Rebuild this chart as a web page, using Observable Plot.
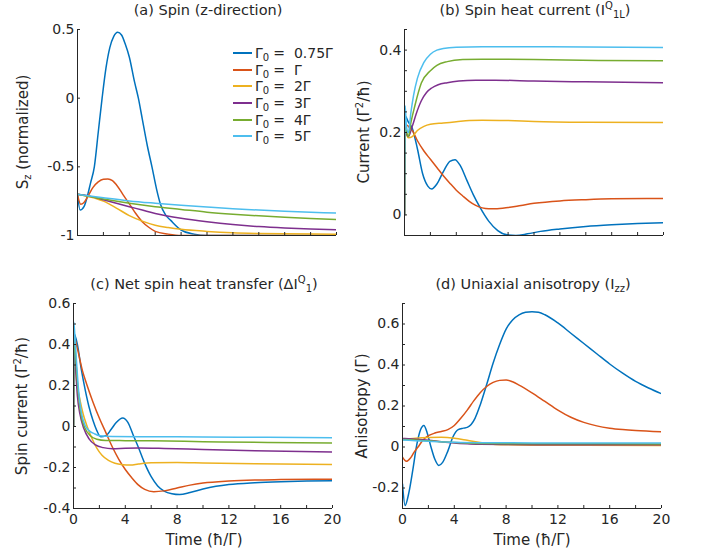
<!DOCTYPE html>
<html><head><meta charset="utf-8">
<script src="https://cdn.jsdelivr.net/npm/d3@7"></script>
<script src="https://cdn.jsdelivr.net/npm/@observablehq/plot@0.6"></script>
<style>
body{margin:0;background:#fff;}
#fig{position:relative;width:705px;height:554px;font-family:"DejaVu Sans",sans-serif;color:#262626;overflow:hidden;background:#fff;}
.panel{position:absolute;}
.txt{position:absolute;white-space:nowrap;line-height:1;}
.title{font-size:14.5px;transform:translate(-50%,-50%);}
.ylab{font-size:15px;transform:translate(-50%,-50%) rotate(-90deg);}
.xlab{font-size:15px;transform:translate(-50%,-50%);}
.sb{font-size:10px;position:relative;top:3px;}
.sp{font-size:10px;position:relative;top:-6px;}
.leg{position:absolute;left:233px;top:45px;font-size:14px;}
.leg .row{height:16.6px;display:flex;align-items:center;white-space:nowrap;}
.leg .sw{width:19px;height:2px;margin-right:3px;}
.leg .eq{margin:0 9px 0 4px;}
</style></head>
<body><div id="fig"></div>
<script>
// ---------- data ----------
const seriesLabels = ["0.75Γ", "Γ", "2Γ", "3Γ", "4Γ", "5Γ"];
const colors = ["#0072BD", "#D95319", "#EDB120", "#7E2F8E", "#77AC30", "#4DBEEE"];
const xTicks = [0, 2, 4, 6, 8, 10, 12, 14, 16, 18, 20];
const xTickLabels = [0, 4, 8, 12, 16, 20];

// (a) Spin S_z, [time, value]
const szA = [[0,-0.70],[0.2,-0.815],[0.5,-0.79],[0.8,-0.70],[1.0,-0.62],[1.3,-0.50],[1.6,-0.25],[1.9,0.0],[2.2,0.22],[2.5,0.37],[2.8,0.45],[3.1,0.48],[3.4,0.46],[3.7,0.39],[4.0,0.30],[4.4,0.12],[4.7,0.0],[5.0,-0.15],[5.4,-0.35],[5.75,-0.50],[6.1,-0.66],[6.4,-0.77],[6.8,-0.85],[7.2,-0.89],[8.0,-0.96],[9.0,-0.99],[10,-1.0],[20,-1.0]];
const szB = [[0,-0.70],[0.25,-0.773],[0.5,-0.76],[0.85,-0.707],[1.2,-0.65],[1.6,-0.61],[2.0,-0.59],[2.35,-0.588],[2.7,-0.60],[3.0,-0.63],[3.5,-0.70],[4.0,-0.77],[4.5,-0.84],[5.0,-0.90],[5.5,-0.94],[6.0,-0.97],[7.0,-0.99],[8,-1.0],[20,-1.0]];
const szC = [[0,-0.70],[1,-0.72],[2,-0.75],[3,-0.80],[4,-0.855],[5,-0.895],[6,-0.925],[7,-0.942],[8,-0.955],[10,-0.97],[12,-0.98],[14,-0.985],[16,-0.988],[20,-0.99]];
const szD = [[0,-0.70],[1,-0.715],[2,-0.74],[3,-0.765],[4,-0.79],[5,-0.815],[6,-0.84],[8,-0.875],[10,-0.90],[12,-0.92],[14,-0.935],[16,-0.945],[18,-0.952],[20,-0.958]];
const szE = [[0,-0.70],[2,-0.735],[4,-0.765],[6,-0.79],[8,-0.81],[10,-0.83],[12,-0.845],[14,-0.857],[16,-0.867],[18,-0.876],[20,-0.884]];
const szF = [[0,-0.70],[2,-0.725],[4,-0.748],[6,-0.765],[8,-0.78],[10,-0.793],[12,-0.805],[14,-0.815],[16,-0.823],[18,-0.83],[20,-0.837]];

// (b) Spin heat current
const hcA = [[0,0],[0.05,0.24],[0.3,0.225],[0.6,0.21],[1.0,0.16],[1.4,0.10],[1.8,0.07],[2.1,0.063],[2.5,0.075],[3.0,0.105],[3.5,0.13],[3.9,0.134],[4.3,0.12],[4.8,0.085],[5.3,0.05],[5.8,0.02],[6.5,-0.015],[7.2,-0.038],[8.0,-0.049],[8.6,-0.05],[9.5,-0.046],[10.5,-0.04],[12,-0.034],[14,-0.028],[16,-0.024],[18,-0.021],[20,-0.019]];
const hcB = [[0,0],[0.05,0.22],[0.3,0.215],[0.6,0.205],[1.0,0.18],[1.5,0.155],[2.0,0.135],[2.5,0.115],[3.0,0.095],[3.5,0.077],[4.0,0.06],[4.5,0.046],[5.0,0.033],[5.5,0.023],[6.0,0.017],[6.5,0.015],[7.0,0.015],[8.0,0.018],[9,0.023],[10,0.028],[12,0.034],[14,0.037],[16,0.039],[20,0.04]];
const hcC = [[0,0],[0.05,0.2],[0.3,0.187],[0.6,0.19],[1.0,0.205],[1.5,0.215],[2,0.22],[3,0.223],[4,0.226],[5,0.229],[6,0.23],[8,0.229],[10,0.227],[14,0.225],[20,0.224]];
const hcD = [[0,0],[0.05,0.2],[0.3,0.19],[0.6,0.215],[0.9,0.245],[1.3,0.277],[1.7,0.297],[2.1,0.308],[2.6,0.316],[3.3,0.321],[4.2,0.325],[5.5,0.327],[7,0.327],[10,0.325],[14,0.323],[20,0.321]];
const hcE = [[0,0],[0.05,0.21],[0.3,0.19],[0.5,0.225],[0.8,0.265],[1.3,0.32],[2.0,0.35],[2.5,0.363],[3.3,0.372],[4.5,0.377],[6,0.378],[10,0.377],[15,0.375],[20,0.374]];
const hcF = [[0,0],[0.05,0.265],[0.15,0.215],[0.3,0.2],[0.5,0.25],[0.7,0.29],[1.0,0.332],[1.5,0.37],[2.0,0.39],[2.5,0.4],[3.0,0.404],[4,0.407],[6,0.408],[10,0.408],[20,0.406]];

// (c) Net spin heat transfer
const nsA = [[0,0],[0.03,0.455],[0.3,0.40],[0.6,0.28],[0.9,0.18],[1.2,0.095],[1.5,0.03],[1.8,-0.02],[2.1,-0.05],[2.5,-0.045],[2.9,-0.015],[3.3,0.02],[3.8,0.042],[4.2,0.02],[4.6,-0.04],[5.0,-0.1],[5.5,-0.18],[6.0,-0.245],[6.5,-0.29],[7.0,-0.315],[7.6,-0.328],[8.2,-0.332],[9.0,-0.322],[10,-0.305],[11,-0.292],[12,-0.283],[14,-0.274],[16,-0.269],[18,-0.266],[20,-0.264]];
const nsB = [[0,0],[0.03,0.44],[0.3,0.38],[0.7,0.27],[1.0,0.21],[1.5,0.12],[2.0,0.04],[2.5,-0.03],[3.0,-0.1],[3.5,-0.16],[4.0,-0.21],[4.5,-0.25],[5.0,-0.285],[5.5,-0.307],[6.2,-0.318],[7.0,-0.314],[8.0,-0.3],[9,-0.286],[10,-0.276],[12,-0.266],[14,-0.261],[16,-0.259],[20,-0.257]];
const nsC = [[0,0],[0.03,0.38],[0.25,0.22],[0.5,0.13],[0.75,0.06],[1.0,0.01],[1.4,-0.055],[1.8,-0.105],[2.2,-0.14],[2.7,-0.165],[3.2,-0.179],[3.8,-0.186],[4.4,-0.188],[5.0,-0.183],[6,-0.177],[8,-0.176],[10,-0.178],[14,-0.182],[20,-0.185]];
const nsD = [[0,0],[0.03,0.42],[0.15,0.3],[0.3,0.15],[0.5,0.06],[0.8,-0.01],[1.2,-0.06],[1.7,-0.09],[2.3,-0.103],[3,-0.108],[4,-0.106],[5,-0.105],[7,-0.107],[10,-0.112],[14,-0.118],[20,-0.124]];
const nsE = [[0,0],[0.03,0.47],[0.12,0.38],[0.25,0.26],[0.4,0.14],[0.6,0.05],[0.9,-0.01],[1.3,-0.045],[1.8,-0.062],[2.5,-0.068],[4,-0.069],[6,-0.07],[10,-0.074],[15,-0.078],[20,-0.08]];
const nsF = [[0,0],[0.02,0.51],[0.1,0.45],[0.25,0.3],[0.4,0.17],[0.6,0.07],[0.9,0.005],[1.2,-0.02],[1.6,-0.035],[2.0,-0.045],[3,-0.049],[6,-0.05],[10,-0.051],[15,-0.053],[20,-0.055]];

// (d) Uniaxial anisotropy
const anA = [[0,-0.18],[0.2,-0.285],[0.5,-0.22],[0.8,-0.11],[1.1,0.01],[1.4,0.085],[1.65,0.105],[1.9,0.07],[2.2,0.0],[2.5,-0.06],[2.8,-0.09],[3.1,-0.075],[3.5,-0.02],[3.9,0.05],[4.3,0.085],[4.7,0.092],[5.0,0.096],[5.3,0.11],[5.6,0.14],[6.0,0.205],[6.5,0.305],[7.0,0.41],[7.5,0.5],[8.0,0.575],[8.5,0.62],[9.0,0.645],[9.5,0.657],[10.0,0.66],[10.5,0.657],[11.0,0.645],[12,0.605],[13,0.555],[14,0.505],[15,0.455],[16,0.405],[17,0.36],[18,0.32],[19,0.288],[20,0.26]];
const anB = [[0,-0.05],[0.3,-0.07],[0.6,-0.055],[0.9,-0.025],[1.2,0.0],[1.6,0.035],[2.0,0.055],[2.5,0.068],[3.0,0.076],[3.5,0.085],[4.0,0.105],[4.5,0.14],[5.0,0.18],[5.5,0.225],[6.0,0.265],[6.5,0.295],[7.0,0.315],[7.5,0.325],[8.0,0.327],[8.5,0.318],[9.0,0.302],[10,0.264],[11,0.222],[12,0.18],[13,0.145],[14,0.12],[15,0.103],[16,0.092],[17,0.085],[18,0.08],[20,0.074]];
const anC = [[0,0.038],[1,0.043],[2,0.046],[3,0.047],[4,0.043],[5,0.033],[6,0.022],[7,0.014],[8,0.011],[10,0.009],[14,0.008],[20,0.007]];
const anD = [[0,0.042],[1,0.038],[2,0.033],[3,0.026],[4,0.02],[5,0.016],[6,0.013],[8,0.012],[12,0.011],[20,0.011]];
const anE = [[0,0.037],[1,0.034],[2,0.03],[3,0.026],[4,0.022],[5,0.019],[6,0.017],[10,0.016],[20,0.015]];
const anF = [[0,0.034],[1,0.031],[2,0.028],[3,0.025],[4,0.023],[6,0.021],[10,0.02],[20,0.02]];

// axis ticks
const aYTicks = [-1, -0.5, 0, 0.5];
const aYLabels = [-1, -0.5, 0, 0.5];
const bYTicks = [-0.05, 0, 0.05, 0.1, 0.15, 0.2, 0.25, 0.3, 0.35, 0.4, 0.45];
const bYLabels = [0, 0.2, 0.4];
const cYTicks = [-0.4, -0.3, -0.2, -0.1, 0, 0.1, 0.2, 0.3, 0.4, 0.5, 0.6];
const cYLabels = [-0.4, -0.2, 0, 0.2, 0.4, 0.6];
const dYTicks = [-0.3, -0.2, -0.1, 0, 0.1, 0.2, 0.3, 0.4, 0.5, 0.6, 0.7];
const dYLabels = [-0.2, 0, 0.2, 0.4, 0.6];

// ---------- drawing ----------
const fig = document.getElementById("fig");
const FONT = '"DejaVu Sans", sans-serif';

function panel(opts) {
  const {series, yDomain, yTicks, yLabels, xLabels, left, top, width, height, ml, mr, mt, mb} = opts;
  const fmt = (list) => (d) => list.some(v => Math.abs(v - d) < 1e-9) ? String(d) : "";
  const marks = [];
  series.forEach((s, i) => {
    marks.push(Plot.line(s, {x: d => d[0], y: d => d[1], stroke: colors[i], strokeWidth: 1.5, curve: "monotone-x", clip: true}));
  });
  marks.push(Plot.ruleX([0], {stroke: "#262626", strokeWidth: 1}));
  marks.push(Plot.ruleY([yDomain[0]], {stroke: "#262626", strokeWidth: 1}));
  marks.push(Plot.axisY({ticks: yTicks, tickSize: -3, tickPadding: 6, tickFormat: fmt(yLabels), label: null, stroke: "#262626"}));
  marks.push(Plot.axisX({ticks: xTicks, tickSize: -3, tickPadding: 9, tickFormat: fmt(xLabels), label: null, stroke: "#262626"}));
  const svg = Plot.plot({
    width, height, marginLeft: ml, marginRight: mr, marginTop: mt, marginBottom: mb,
    x: {domain: [0, 20]}, y: {domain: yDomain},
    style: {fontFamily: FONT, fontSize: "14px", color: "#262626", background: "transparent", overflow: "visible"},
    marks
  });
  svg.classList.add("panel");
  svg.style.left = left + "px";
  svg.style.top = top + "px";
  fig.appendChild(svg);
}

panel({series: [szA, szB, szC, szD, szE, szF], yDomain: [-1, 0.5], yTicks: aYTicks, yLabels: aYLabels, xLabels: [],
  left: 0, top: 0, width: 352, height: 277, ml: 77, mr: 16, mt: 29, mb: 42});
panel({series: [hcA, hcB, hcC, hcD, hcE, hcF], yDomain: [-0.05, 0.45], yTicks: bYTicks, yLabels: bYLabels, xLabels: [],
  left: 352, top: 0, width: 353, height: 277, ml: 52, mr: 42, mt: 29, mb: 42});
panel({series: [nsA, nsB, nsC, nsD, nsE, nsF], yDomain: [-0.4, 0.6], yTicks: cYTicks, yLabels: cYLabels, xLabels: xTickLabels,
  left: 0, top: 277, width: 352, height: 277, ml: 73, mr: 20, mt: 26, mb: 46});
panel({series: [anA, anB, anC, anD, anE, anF], yDomain: [-0.3, 0.7], yTicks: dYTicks, yLabels: dYLabels, xLabels: xTickLabels,
  left: 352, top: 277, width: 353, height: 277, ml: 50, mr: 44, mt: 26, mb: 46});

function addText(cls, x, y, html) {
  const d = document.createElement("div");
  d.className = "txt " + cls;
  d.style.left = x + "px";
  d.style.top = y + "px";
  d.innerHTML = html;
  fig.appendChild(d);
}
addText("title", 208, 10, "(a) Spin (z-direction)");
addText("title", 535, 10, '(b) Spin heat current (I<span class="sp">Q</span><span class="sb">1L</span>)');
addText("title", 204, 284, '(c) Net spin heat transfer (ΔI<span class="sp">Q</span><span class="sb">1</span>)');
addText("title", 533, 284, '(d) Uniaxial anisotropy (I<span class="sb">zz</span>)');
addText("ylab", 23, 132, 'S<span class="sb">z</span> (normalized)');
addText("ylab", 364, 132, 'Current (Γ<span class="sp">2</span>/ħ)');
addText("ylab", 22, 406, 'Spin current (Γ<span class="sp">2</span>/ħ)');
addText("ylab", 362, 406, 'Anisotropy (Γ)');
addText("xlab", 204, 540, 'Time (ħ/Γ)');
addText("xlab", 532, 540, 'Time (ħ/Γ)');

const leg = document.createElement("div");
leg.className = "leg";
seriesLabels.forEach((lab, i) => {
  const r = document.createElement("div");
  r.className = "row";
  r.innerHTML = `<div class="sw" style="background:${colors[i]}"></div><span>Γ<span class="sb">0</span><span class="eq">=</span>${lab}</span>`;
  leg.appendChild(r);
});
fig.appendChild(leg);
</script>
</body></html>
